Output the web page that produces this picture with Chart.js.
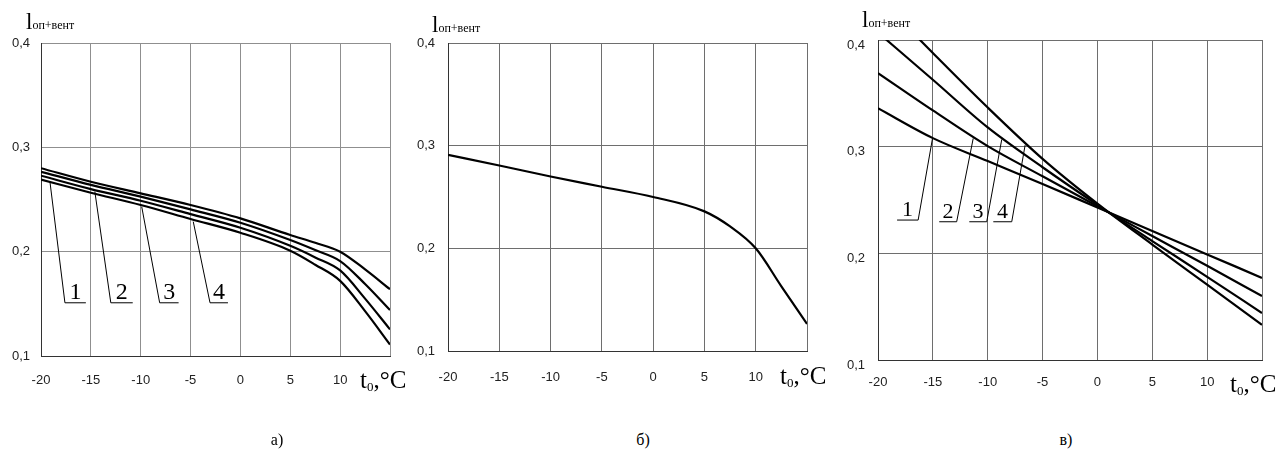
<!DOCTYPE html>
<html>
<head>
<meta charset="utf-8">
<script src="https://cdn.jsdelivr.net/npm/chart.js@4.4.1/dist/chart.umd.min.js"></script>
<style>
  body { margin: 0; background: #fff; width: 1280px; height: 457px; overflow: hidden; position: relative; font-family: 'Liberation Serif', 'Times New Roman', serif; color: #000; }
  .box { position: absolute; top: 0; height: 400px; }
  .txt { position: absolute; line-height: 1; white-space: nowrap; }
  .ytitle { font-size: 23px; }
  .ytitle span { font-size: 12px; }
  .xtitle { font-size: 25px; }
  .xtitle sub { font-size: 13px; vertical-align: -3px; }
  .cap { font-size: 16px; transform: translateX(-50%); }
</style>
</head>
<body>
<div class="box" style="left:0;width:415px"><canvas id="chartA"></canvas></div>
<div class="box" style="left:405px;width:425px"><canvas id="chartB"></canvas></div>
<div class="box" style="left:835px;width:445px"><canvas id="chartC"></canvas></div>

<div class="txt ytitle" style="left:26px;top:10px">l<span>оп+вент</span></div>
<div class="txt ytitle" style="left:432px;top:13px">l<span>оп+вент</span></div>
<div class="txt ytitle" style="left:862px;top:8px">l<span>оп+вент</span></div>

<div class="txt xtitle" style="left:360px;top:367px">t<sub>0</sub>,°C</div>
<div class="txt xtitle" style="left:780px;top:363px">t<sub>0</sub>,°C</div>
<div class="txt xtitle" style="left:1230px;top:371px">t<sub>0</sub>,°C</div>

<div class="txt cap" style="left:277px;top:432px">а)</div>
<div class="txt cap" style="left:643px;top:432px">б)</div>
<div class="txt cap" style="left:1066px;top:432px">в)</div>

<script>
// temperature ticks shared by the three panels (15 keeps its grid line but no label)
const xTickValues = [-20, -15, -10, -5, 0, 5, 10, 15];
const yTickValues = [0.1, 0.2, 0.3, 0.4];

// panel а) – four curves, 1 is the lowest
const tempA = [-20, -15, -10, -5, 0, 5, 7.5, 10, 12.5, 15];
const curveA1 = [0.269, 0.2565, 0.2447, 0.2313, 0.2181, 0.2009, 0.1875, 0.172, 0.143, 0.111];
const curveA2 = [0.2728, 0.260, 0.2488, 0.236, 0.2229, 0.2056, 0.1945, 0.182, 0.155, 0.1255];
const curveA3 = [0.2766, 0.264, 0.2527, 0.2405, 0.2277, 0.2111, 0.2015, 0.191, 0.169, 0.144];
const curveA4 = [0.280, 0.267, 0.2559, 0.2447, 0.2319, 0.2159, 0.2085, 0.200, 0.183, 0.164];

// panel б) – single curve
const tempB = [-20, -15, -10, -5, 0, 5, 7.5, 10, 12.5, 15];
const curveB = [0.291, 0.2807, 0.270, 0.260, 0.250, 0.236, 0.2213, 0.200, 0.163, 0.1264];

// panel в) – four lines meeting near t0 = 1
const tempC = [-20, -15, -10, -5, 0, 5, 10, 15];
const lineC1 = [0.336, 0.308, 0.2865, 0.265, 0.243, 0.221, 0.199, 0.177];
const lineC2 = [0.369, 0.334, 0.3005, 0.2722, 0.2441, 0.2162, 0.1883, 0.160];
const lineC3 = [0.407, 0.3627, 0.318, 0.2807, 0.2454, 0.2115, 0.178, 0.144];
const lineC4 = [0.440, 0.3878, 0.3367, 0.2886, 0.2466, 0.2082, 0.1706, 0.133];

// curve number callouts, in data units: leader from -> to, then a shelf to shelfX
const calloutsA = [
  { n: '1', from: [-19.1, 0.2668], to: [-17.6, 0.151], shelfX: -15.5 },
  { n: '2', from: [-14.6, 0.2575], to: [-13.0, 0.151], shelfX: -10.8 },
  { n: '3', from: [-9.9, 0.2431], to: [-8.1, 0.151], shelfX: -6.2 },
  { n: '4', from: [-4.73, 0.2288], to: [-3.05, 0.151], shelfX: -1.25 }
];
const calloutsC = [
  { n: '1', from: [-15.03, 0.3078], to: [-16.34, 0.2312], shelfX: -18.26 },
  { n: '2', from: [-11.32, 0.3078], to: [-12.83, 0.2296], shelfX: -14.42 },
  { n: '3', from: [-8.72, 0.3068], to: [-10.09, 0.2296], shelfX: -11.68 },
  { n: '4', from: [-6.59, 0.3015], to: [-7.81, 0.2296], shelfX: -9.49 }
];

function pts(xs, ys) {
  return xs.map((x, i) => ({ x, y: ys[i] }));
}

const calloutPlugin = {
  id: 'callouts',
  afterDatasetsDraw(chart, args, opts) {
    if (!opts.items) return;
    const { ctx, scales: { x, y } } = chart;
    ctx.save();
    ctx.strokeStyle = '#000';
    ctx.lineWidth = 1;
    ctx.fillStyle = '#000';
    ctx.font = opts.font;
    ctx.textAlign = 'center';
    ctx.textBaseline = 'alphabetic';
    opts.items.forEach((c) => {
      const x0 = x.getPixelForValue(c.from[0]), y0 = y.getPixelForValue(c.from[1]);
      const x1 = x.getPixelForValue(c.to[0]), y1 = y.getPixelForValue(c.to[1]);
      const x2 = x.getPixelForValue(c.shelfX);
      ctx.beginPath();
      ctx.moveTo(x0, y0);
      ctx.lineTo(x1, y1);
      ctx.lineTo(x2, y1);
      ctx.stroke();
      ctx.fillText(c.n, (x1 + x2) / 2, y1 - 4);
    });
    ctx.restore();
  }
};

function makePanel(id, o) {
  const el = document.getElementById(id);
  const datasets = o.series.map((s) => ({
    data: s,
    borderColor: '#000',
    borderWidth: 2.2,
    pointRadius: 0,
    fill: false,
    cubicInterpolationMode: 'monotone'
  }));
  return new Chart(el, {
    type: 'line',
    data: { datasets },
    plugins: [calloutPlugin],
    options: {
      responsive: true,
      maintainAspectRatio: false,
      animation: false,
      events: [],
      layout: { padding: { left: 0, top: o.top, right: o.right, bottom: 0 } },
      plugins: {
        legend: { display: false },
        tooltip: { enabled: false },
        callouts: { items: o.callouts, font: o.calloutFont }
      },
      scales: {
        x: {
          type: 'linear',
          min: -20,
          max: 15,
          afterFit: (s) => { s.height = o.xAxisH; },
          afterBuildTicks: (s) => { s.ticks = xTickValues.map((v) => ({ value: v })); },
          grid: { color: o.grid, lineWidth: 1, drawTicks: false },
          border: { color: '#333', width: 1 },
          ticks: {
            padding: o.xPad,
            color: '#222',
            font: { family: "'Liberation Sans', Arial, sans-serif", size: 13 },
            maxRotation: 0,
            autoSkip: false,
            callback: (v) => (v === 15 ? '' : String(v))
          }
        },
        y: {
          type: 'linear',
          min: 0.1,
          max: 0.4,
          afterFit: (s) => { s.width = o.yAxisW; },
          afterBuildTicks: (s) => { s.ticks = yTickValues.map((v) => ({ value: v })); },
          grid: { color: o.grid, lineWidth: 1, drawTicks: false },
          border: { color: '#333', width: 1 },
          ticks: {
            padding: o.yPad,
            labelOffset: o.yOff || 0,
            color: '#222',
            font: { family: "'Liberation Sans', Arial, sans-serif", size: 13 },
            callback: (v) => v.toFixed(1).replace('.', ',')
          }
        }
      }
    }
  });
}

makePanel('chartA', {
  series: [pts(tempA, curveA1), pts(tempA, curveA2), pts(tempA, curveA3), pts(tempA, curveA4)],
  top: 43, right: 25, xAxisH: 44, yAxisW: 41, xPad: 17, yPad: 11,
  grid: '#8f8f8f', callouts: calloutsA, calloutFont: "24px 'Liberation Serif', serif"
});

makePanel('chartB', {
  series: [pts(tempB, curveB)],
  top: 43, right: 23, xAxisH: 49, yAxisW: 43, xPad: 19, yPad: 13,
  grid: '#6e6e6e'
});

makePanel('chartC', {
  series: [pts(tempC, lineC1), pts(tempC, lineC2), pts(tempC, lineC3), pts(tempC, lineC4)],
  top: 40, right: 18, xAxisH: 40, yAxisW: 43, xPad: 15, yPad: 13, yOff: 5,
  grid: '#6e6e6e', callouts: calloutsC, calloutFont: "22px 'Liberation Serif', serif"
});
</script>
</body>
</html>
